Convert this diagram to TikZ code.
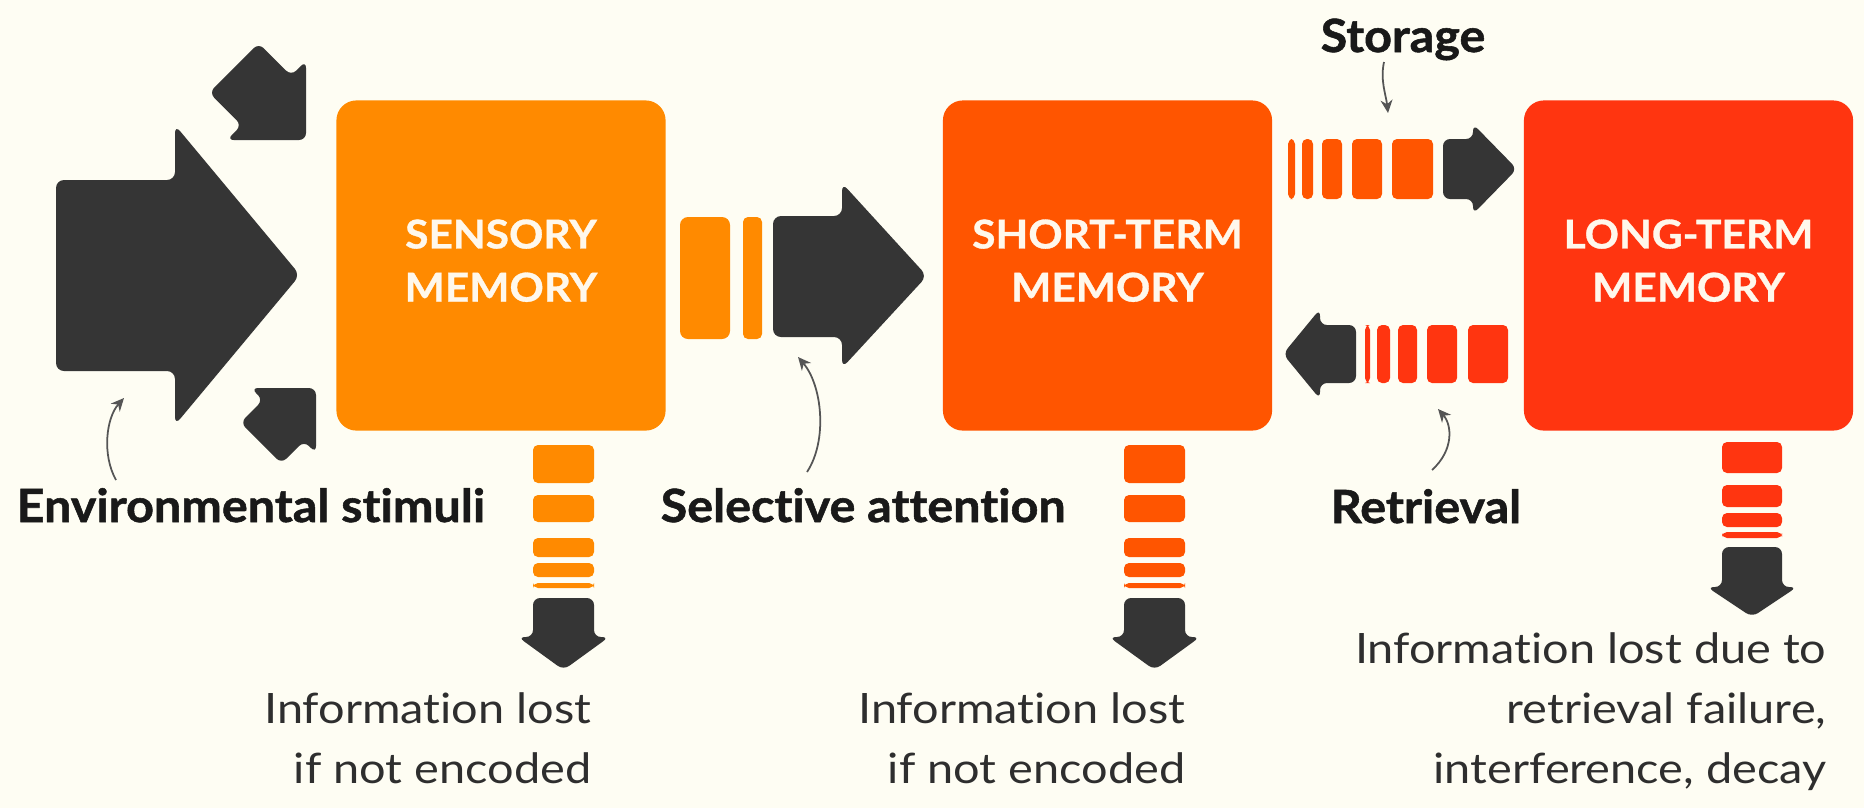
\documentclass[tikz,border=0pt]{standalone}
\usepackage{fontspec}
\setmainfont{Lato}[Ligatures=NoCommon]
\newfontfamily\boxfont{Lato}[Ligatures=NoCommon, FakeStretch=1.07, BoldFeatures={FakeBold=0.8}]
\newfontfamily\stepfont{Lato}[Ligatures=NoCommon, FakeStretch=1.06, BoldFeatures={FakeBold=1.2}]
\newfontfamily\infofont{Lato}[Ligatures=NoCommon, FakeStretch=1.12]
\usetikzlibrary{arrows.meta}
\definecolor{bg}{HTML}{FEFDF3}
\definecolor{dark}{HTML}{353535}
\definecolor{sens}{HTML}{FF8A00}
\definecolor{stm}{HTML}{FF5500}
\definecolor{ltm}{HTML}{FF3510}
\definecolor{boxtext}{HTML}{FFF8EC}
\definecolor{leadgray}{HTML}{555555}
\definecolor{infogray}{HTML}{2E2E2E}
\newcommand{\lowstrut}{\rule[-0.1cm]{0pt}{0.1cm}}
\begin{document}
\begin{tikzpicture}[x=0.01cm,y=-0.01cm,
  darkshape/.style={fill=dark, rounded corners=0.07cm},
  barshape/.style={rounded corners=0.05cm},
  memorybox/.style={minimum width=3.29cm, minimum height=3.3cm, rounded corners=0.2cm, inner sep=0pt,
    text=boxtext, font=\boxfont\fontsize{11.3}{15.1}\selectfont\bfseries, align=center},
  steplabel/.style={font=\stepfont\fontsize{13}{15}\selectfont\bfseries, text=black!90, inner sep=0pt},
  infotext/.style={font=\infofont\fontsize{11.9}{17}\selectfont, text=infogray, inner sep=0pt},
  leader/.style={draw=leadgray, line width=0.5pt, -{Stealth[length=1.3mm,width=1.2mm]}}]
\useasboundingbox (0,0) rectangle (1864,808);
\fill[bg] (0,0) rectangle (1864,808);

% memory boxes
\node[memorybox, fill=sens] (sensory) at (501,265.5) {SENSORY\\MEMORY\lowstrut};
\node[memorybox, fill=stm] (shortterm) at (1107.5,265.5) {SHORT-TERM\\MEMORY\lowstrut};
\node[memorybox, fill=ltm] (longterm) at (1688.5,265.5) {LONG-TERM\\MEMORY\lowstrut};

% environmental stimuli arrows
\fill[darkshape, rounded corners=0.08cm] (56,180) -- (175,180) -- (175,125) -- (300,275) -- (175,425) -- (175,371) -- (56,371) -- cycle;
\fill[darkshape] (258.65,43.15) -- (291.15,75.65) -- (306,60.8) -- (306,140) -- (226.8,140) -- (241.65,125.15) -- (209.15,92.65) -- cycle;
\fill[darkshape] (281.4,463.6) -- (304,441) -- (316,453) -- (316,388) -- (251,388) -- (263,400) -- (240.4,422.6) -- cycle;

% selective attention arrow
\fill[sens, barshape, rounded corners=0.08cm] (680,217) rectangle (730,339);
\fill[sens, barshape] (743,217) rectangle (762,339);
\fill[darkshape, rounded corners=0.08cm] (773,216) -- (842,216) -- (842,183) -- (927,276) -- (842,368) -- (842,337) -- (773,337) -- cycle;

% storage arrow
\foreach \a/\b in {1288/1295,1302/1313,1322/1342,1352/1382,1392/1433}
  \fill[stm, barshape] (\a,139) rectangle (\b,199);
\fill[darkshape] (1443,139) -- (1473,139) -- (1473,124) -- (1517,169) -- (1473,214) -- (1473,199) -- (1443,199) -- cycle;

% retrieval arrow
\foreach \a/\b in {1365/1370,1377/1390,1398/1417,1427/1457,1468/1508}
  \fill[ltm, barshape] (\a,325) rectangle (\b,383);
\fill[darkshape] (1356,325) -- (1320,325) -- (1320,309) -- (1283,354) -- (1320,399) -- (1320,383) -- (1356,383) -- cycle;

% downward loss arrows
\foreach \cx/\col in {563.5/sens,1154.5/stm}{
  \foreach \t/\u in {445/483,495/522,538/557,563/577,583/588}
    \fill[\col, barshape] (\cx-30.5,\t) rectangle (\cx+30.5,\u);
  \fill[darkshape] (\cx-30.5,598) -- (\cx+30.5,598) -- (\cx+30.5,637) -- (\cx+45.5,637) -- (\cx,670) -- (\cx-45.5,637) -- (\cx-30.5,637) -- cycle;
}
\foreach \t/\u in {442/473,485/507,513/527,532/538}
  \fill[ltm, barshape] (1722,\t) rectangle (1782,\u);
\fill[darkshape] (1722,547) -- (1782,547) -- (1782,587) -- (1797,587) -- (1752,617) -- (1707,587) -- (1722,587) -- cycle;

% labels
\node[steplabel, anchor=base west] (envtxt) at (16,522) {Environmental stimuli};
\node[steplabel, anchor=base west] (seltxt) at (660,522) {Selective attention};
\node[steplabel, anchor=base west] (rettxt) at (1330,523) {Retrieval};
\node[steplabel, anchor=base west] (stotxt) at (1320,52) {Storage};

\node[infotext, anchor=base east] (lossA1) at (592,723) {Information lost};
\node[infotext, anchor=base east] (lossA2) at (592,783) {if not encoded};
\node[infotext, anchor=base east] (lossB1) at (1186,723) {Information lost};
\node[infotext, anchor=base east] (lossB2) at (1186,783) {if not encoded};
\node[infotext, anchor=base east] (lossC1) at (1827,663) {Information lost due to};
\node[infotext, anchor=base east] (lossC2) at (1827,723) {retrieval failure,};
\node[infotext, anchor=base east] (lossC3) at (1827,783) {interference, decay};

% leader lines
\coordinate (envfoot) at (116,480);
\coordinate (envtip) at (124,398);
\coordinate (selfoot) at (807,472);
\coordinate (seltip) at (798,357);
\coordinate (stofoot) at (1384,62);
\coordinate (stotip) at (1388,113);
\coordinate (retfoot) at (1432,470);
\coordinate (rettip) at (1438,409);
\draw[leader] (envfoot) .. controls (102,455) and (106,418) .. (envtip);
\draw[leader] (selfoot) .. controls (828,440) and (822,385) .. (seltip);
\draw[leader] (stofoot) .. controls (1380,80) and (1386,95) .. (stotip);
\draw[leader] (retfoot) .. controls (1454,450) and (1452,425) .. (rettip);
\end{tikzpicture}
\end{document}
